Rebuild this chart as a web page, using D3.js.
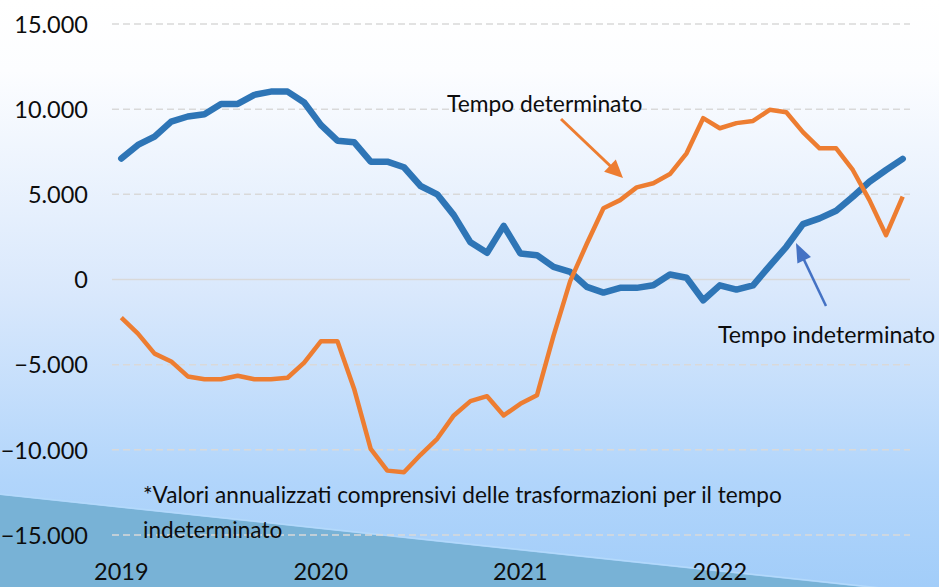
<!DOCTYPE html>
<html><head><meta charset="utf-8">
<script src="https://cdn.jsdelivr.net/npm/d3@7"></script>
<style>html,body{margin:0;padding:0;background:#fff;}svg{display:block;}</style>
</head><body>
<svg id="chart" width="939" height="587"></svg>
<script>
const months = [
 "2019-01","2019-02","2019-03","2019-04","2019-05","2019-06","2019-07","2019-08","2019-09","2019-10","2019-11","2019-12",
 "2020-01","2020-02","2020-03","2020-04","2020-05","2020-06","2020-07","2020-08","2020-09","2020-10","2020-11","2020-12",
 "2021-01","2021-02","2021-03","2021-04","2021-05","2021-06","2021-07","2021-08","2021-09","2021-10","2021-11","2021-12",
 "2022-01","2022-02","2022-03","2022-04","2022-05","2022-06","2022-07","2022-08","2022-09","2022-10","2022-11","2022-12"];
const yearTicks = ["2019-01","2020-01","2021-01","2022-01"];
const yearLabels = ["2019","2020","2021","2022"];
const yTicks = [-15000,-10000,-5000,0,5000,10000,15000];
const tempoIndeterminato = [7100,7900,8390,9270,9570,9700,10310,10310,10840,11030,11030,10390,
 9080,8150,8060,6920,6920,6590,5490,5000,3780,2180,1570,3150,
 1530,1430,740,450,-430,-770,-490,-490,-340,290,100,-1220,
 -340,-590,-340,800,1920,3250,3590,4040,4860,5740,6430,7080];
const tempoDeterminato = [-2240,-3180,-4350,-4810,-5690,-5860,-5860,-5650,-5860,-5860,-5770,-4880,
 -3630,-3630,-6410,-9940,-11220,-11320,-10290,-9350,-7980,-7140,-6850,-7980,
 -7300,-6800,-3300,-100,2100,4180,4660,5410,5650,6190,7410,9470,
 8880,9180,9310,9960,9820,8650,7700,7700,6430,4660,2600,4860];
const footnote = ["*Valori annualizzati comprensivi delle trasformazioni per il tempo","indeterminato"];

const svg = d3.select("#chart");
const W = 939, H = 587;
const FONT = "Lato, 'Open Sans', sans-serif";

// background
const defs = svg.append("defs");
const g = defs.append("linearGradient").attr("id","bg").attr("x1",0).attr("y1",0).attr("x2",0).attr("y2",1);
[[0,"#ffffff"],[0.12,"#fcfdff"],[0.5,"#d9e8fc"],[0.82,"#b1d5fb"],[1,"#a2cdf9"]].forEach(s=>g.append("stop").attr("offset",s[0]).attr("stop-color",s[1]));
svg.append("rect").attr("width",W).attr("height",H).attr("fill","url(#bg)");
svg.append("path").attr("d","M0,495 L900,591 L0,591 Z").attr("fill","#78b2d6");
svg.append("path").attr("d","M0,494 L900,590").attr("stroke","#b3d9fb").attr("stroke-width",1.5).attr("fill","none");

const x = d3.scaleBand().domain(months).range([113,911]);
const xc = d => x(d) + x.bandwidth()/2;
const y = d3.scaleLinear().domain([-15000,15000]).range([535,24]);

// grid
svg.append("g").selectAll("line").data(yTicks).join("line")
  .attr("x1",112).attr("x2",910)
  .attr("y1",d=>y(d)).attr("y2",d=>y(d))
  .attr("stroke","#d9d9d9").attr("stroke-width",1.5)
  .attr("stroke-dasharray",d=>d===0?null:"7,4");

// y axis labels
const fmt = d => d3.format(",")(d).replace(/,/g,".");
const yAxis = d3.axisLeft(y).tickValues(yTicks).tickFormat(fmt).tickSize(0).tickPadding(0);
const ya = svg.append("g").attr("transform","translate(88,0)").call(yAxis);
ya.select(".domain").remove();
ya.selectAll("text").attr("font-family",FONT).attr("font-size",23.5).attr("fill","#0d0d0d").attr("dy","0.35em");

// x axis labels
const xAxis = d3.axisBottom(x).tickValues(yearTicks).tickFormat((d,i)=>yearLabels[i]).tickSize(0).tickPadding(0);
const xa = svg.append("g").attr("transform","translate(0,563)").call(xAxis);
xa.select(".domain").remove();
xa.selectAll("text").attr("font-family",FONT).attr("font-size",23.5).attr("fill","#0d0d0d").attr("dy","0.71em");

// lines
const line = d3.line().x((d,i)=>xc(months[i])).y(d=>y(d));
svg.append("path").datum(tempoIndeterminato).attr("d",line)
  .attr("fill","none").attr("stroke","#2e75b6").attr("stroke-width",6.5)
  .attr("stroke-linejoin","round").attr("stroke-linecap","round");
svg.append("path").datum(tempoDeterminato).attr("d",line)
  .attr("fill","none").attr("stroke","#ed7d31").attr("stroke-width",4.5)
  .attr("stroke-linejoin","round").attr("stroke-linecap","butt");

// arrows
function arrow(x1,y1,x2,y2,color,w,hl,hw){
  const dx=x2-x1, dy=y2-y1, L=Math.hypot(dx,dy), ux=dx/L, uy=dy/L;
  const bx=x2-ux*hl, by=y2-uy*hl;
  svg.append("line").attr("x1",x1).attr("y1",y1).attr("x2",bx+ux*2).attr("y2",by+uy*2)
    .attr("stroke",color).attr("stroke-width",w);
  svg.append("path").attr("d",`M${x2},${y2} L${bx-uy*hw},${by+ux*hw} L${bx+uy*hw},${by-ux*hw} Z`).attr("fill",color);
}
arrow(561,119,623,178,"#ed7d31",3,18,8.5);
arrow(826,306,796,243,"#4472c4",2.5,19,7.5);

// annotation texts
svg.append("text").attr("x",447).attr("y",112).text("Tempo determinato")
  .attr("font-family",FONT).attr("font-size",22.8).attr("fill","#0d0d0d");
svg.append("text").attr("x",718).attr("y",343).text("Tempo indeterminato")
  .attr("font-family",FONT).attr("font-size",23.2).attr("fill","#0d0d0d");
svg.append("g").selectAll("text").data(footnote).join("text")
  .attr("x",143).attr("y",(d,i)=>503+i*35).text(d=>d)
  .attr("font-family",FONT).attr("font-size",22.6).attr("fill","#0d0d0d");
</script>
</body></html>
